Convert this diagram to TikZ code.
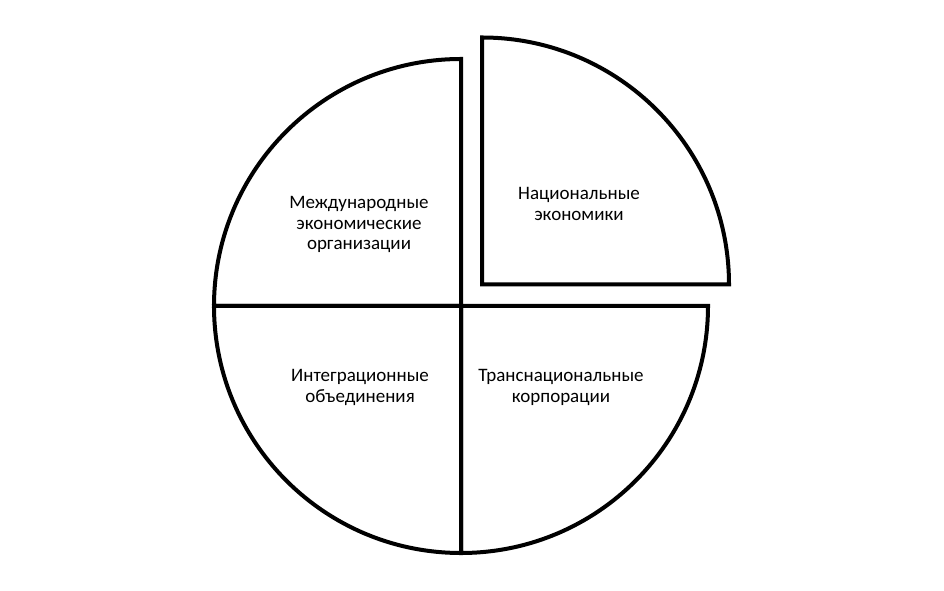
\documentclass[tikz,border=0pt]{standalone}
\usepackage{fontspec}
\setmainfont{Carlito}
\usetikzlibrary{positioning}

\begin{document}
\begin{tikzpicture}[x=1pt, y=1pt, line width=4pt, every node/.style={align=center, font=\fontsize{19}{20.7}\selectfont}]
        \useasboundingbox (0,0) rectangle (944,591);
        % Centres
        \coordinate (centre) at (461,285);
        \coordinate (shifted) at (482,306.5);
        
        % Sectors
        \draw (centre) -- ++(0,247) arc (90:180:247) -- cycle;
        \draw (centre) -- ++(-247,0) arc (180:270:247) -- cycle;
        \draw (centre) -- ++(0,-247) arc (270:360:247) -- cycle;
        \draw (shifted) -- ++(247,0) arc (0:90:247) -- cycle;
        
        % Labels
        \node (orgs) at (359,366.5) {Международные\\экономические\\организации};
        \node (national) at (579,387) {Национальные\\экономики};
        \node (integration) at (360,203.5) {Интеграционные\\объединения};
        \node (tnc) at (561,203.5) {Транснациональные\\корпорации};
    \end{tikzpicture}
\end{document}
